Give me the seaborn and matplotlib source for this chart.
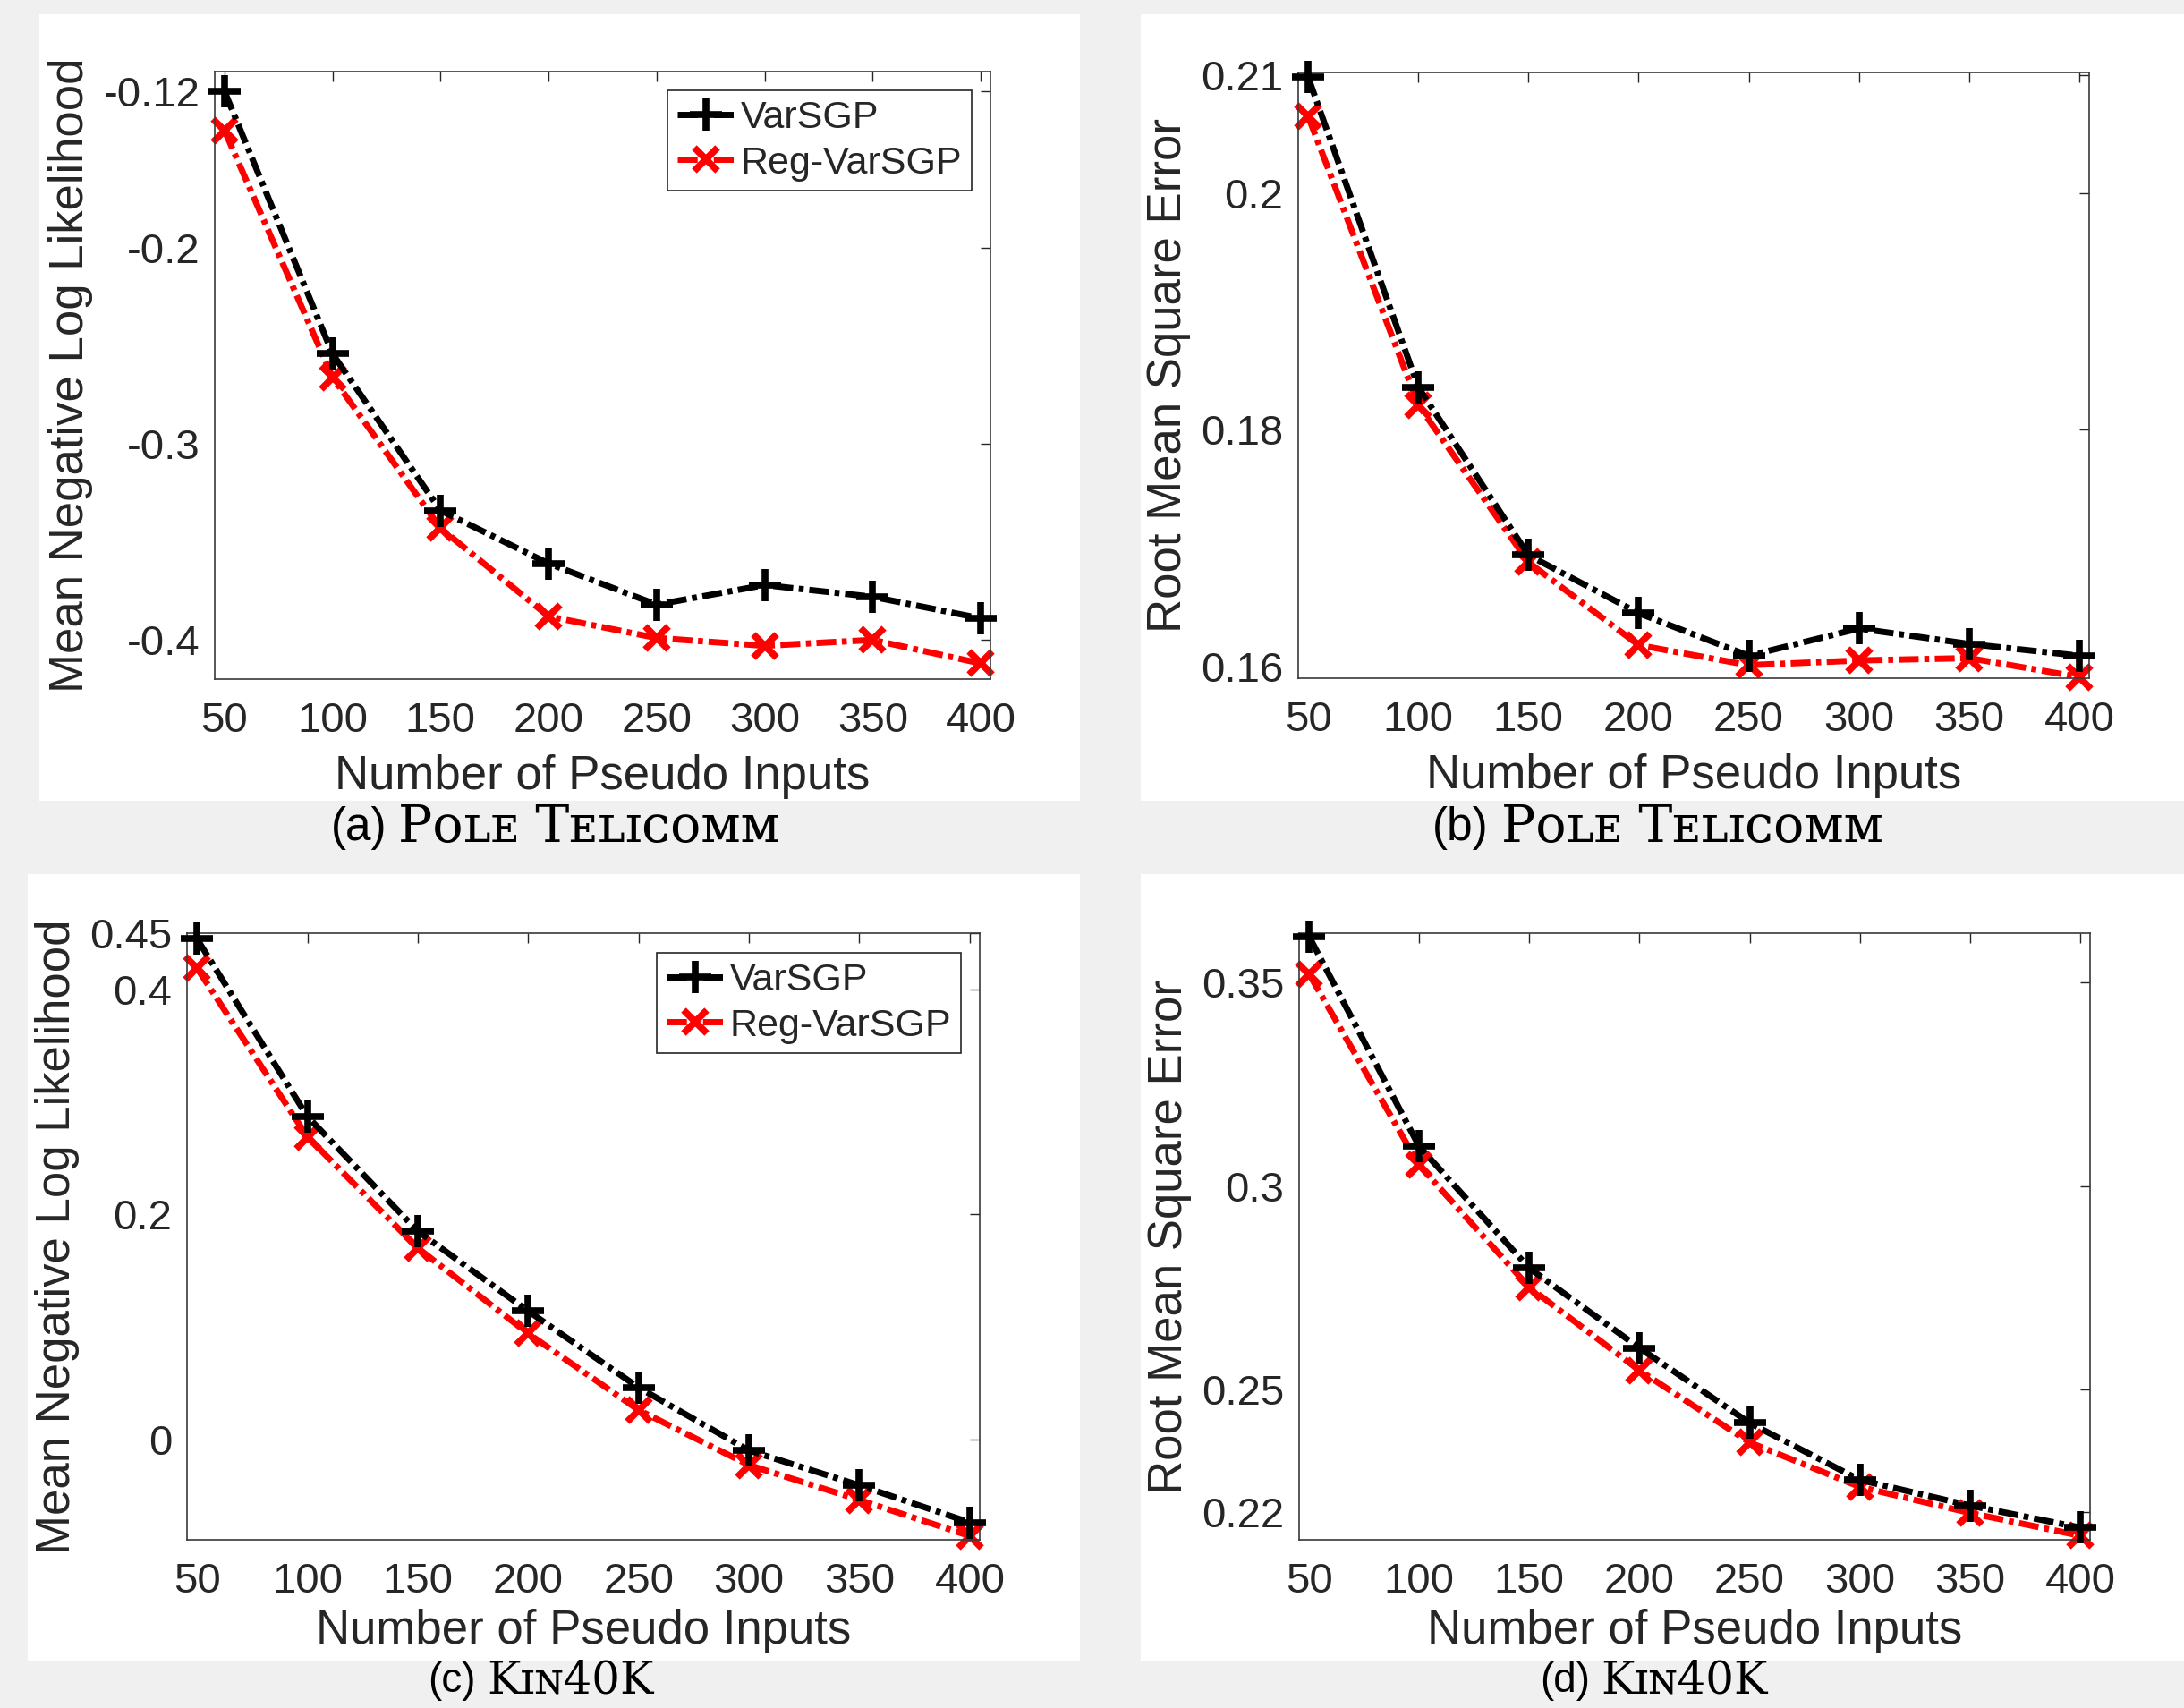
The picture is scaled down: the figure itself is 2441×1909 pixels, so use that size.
import matplotlib
matplotlib.use("Agg")  # no display
import matplotlib.pyplot as plt
from matplotlib.patches import Rectangle
import pandas as pd
import seaborn as sns

# x values shared by all four panels
n_pseudo = [50, 100, 150, 200, 250, 300, 350, 400]

# (a) pole telecomm, mean negative log likelihood
pole_nll_varsgp = [-0.120, -0.254, -0.334, -0.361, -0.382, -0.372, -0.378, -0.389]
pole_nll_reg = [-0.140, -0.266, -0.343, -0.388, -0.399, -0.403, -0.400, -0.412]
# (b) pole telecomm, rmse
pole_rmse_varsgp = [0.2098, 0.1836, 0.1694, 0.1645, 0.1609, 0.1632, 0.1619, 0.1609]
pole_rmse_reg = [0.2065, 0.1821, 0.1688, 0.1618, 0.1601, 0.1605, 0.1607, 0.1591]
# (c) kin40k, mean negative log likelihood
kin_nll_varsgp = [0.445, 0.287, 0.185, 0.114, 0.046, -0.010, -0.041, -0.074]
kin_nll_reg = [0.419, 0.269, 0.170, 0.094, 0.026, -0.023, -0.054, -0.086]
# (d) kin40k, rmse
kin_rmse_varsgp = [0.3613, 0.3097, 0.2798, 0.2602, 0.2418, 0.2278, 0.2215, 0.2161]
kin_rmse_reg = [0.3521, 0.3051, 0.2751, 0.2547, 0.2370, 0.2261, 0.2197, 0.2141]

methods = ["VarSGP", "Reg-VarSGP"]
x_label = "Number of Pseudo Inputs"
nll_label = "Mean Negative Log Likelihood"
rmse_label = "Root Mean Square Error"
x_ticks = [50, 100, 150, 200, 250, 300, 350, 400]
pole_nll_ticks = [-0.4, -0.3, -0.2, -0.12]
pole_rmse_ticks = [0.16, 0.18, 0.2, 0.21]
kin_nll_ticks = [0, 0.2, 0.4, 0.45]
kin_rmse_ticks = [0.22, 0.25, 0.3, 0.35]
captions = [("(a)", "Pᴏʟᴇ Tᴇʟɪᴄᴏᴍᴍ"), ("(b)", "Pᴏʟᴇ Tᴇʟɪᴄᴏᴍᴍ"),
            ("(c)", "Kɪɴ40K"), ("(d)", "Kɪɴ40K")]

W, H = 2441, 1909

sns.set_theme(style="white")
plt.rcParams["font.family"] = ["Liberation Sans", "DejaVu Sans"]

fig = plt.figure(figsize=(W / 100, H / 100), dpi=100, facecolor="#f0f0f0")


def px_rect(l, t, r, b):
    """pixel box -> figure fraction [left, bottom, width, height]"""
    return [l / W, 1 - b / H, (r - l) / W, (b - t) / H]


# white panel backgrounds (kept under the axes)
for l, t, r, b in [(44, 16, 1207, 895), (1275, 16, 2441, 895),
                   (31, 977, 1207, 1856), (1275, 977, 2441, 1856)]:
    fig.patches.append(Rectangle((l / W, 1 - b / H), (r - l) / W, (b - t) / H,
                                 transform=fig.transFigure, facecolor="white",
                                 edgecolor="none", zorder=-5))

# bottom row is squeezed against the figure edge, so its captions are a bit smaller
panels = [
    dict(box=(240, 80, 1107, 759), a=pole_nll_varsgp, b=pole_nll_reg,
         ylim=(-0.42, -0.11), yticks=pole_nll_ticks, ylabel=nll_label,
         legend=(1086, 101), cap_y=925, cap_split=(432, 445),
         cap_size=(37, 41), xpad=11),
    dict(box=(1451, 81, 2335, 758), a=pole_rmse_varsgp, b=pole_rmse_reg,
         ylim=(0.159, 0.2102), yticks=pole_rmse_ticks, ylabel=rmse_label,
         legend=None, cap_y=925, cap_split=(1664, 1678),
         cap_size=(37, 41), xpad=11),
    dict(box=(209, 1043, 1095, 1721), a=kin_nll_varsgp, b=kin_nll_reg,
         ylim=(-0.0894, 0.4495), yticks=kin_nll_ticks, ylabel=nll_label,
         legend=(1074, 1065), cap_y=1879, cap_split=(532, 544),
         cap_size=(33, 36), xpad=6),
    dict(box=(1452, 1043, 2336, 1721), a=kin_rmse_varsgp, b=kin_rmse_reg,
         ylim=(0.2131, 0.3621), yticks=kin_rmse_ticks, ylabel=rmse_label,
         legend=None, cap_y=1879, cap_split=(1777, 1789),
         cap_size=(33, 36), xpad=6),
]

dash_dot = (0, (3.2, 0.9, 0.8, 0.9))
text_col = "#262626"

for p, (tag, name) in zip(panels, captions):
    ax = fig.add_axes(px_rect(*p["box"]))
    ax.set_zorder(2)
    df = pd.DataFrame({"n": n_pseudo * 2, "val": p["a"] + p["b"],
                       "method": [methods[0]] * 8 + [methods[1]] * 8})
    sub_a = df[df["method"] == methods[0]]
    sub_b = df[df["method"] == methods[1]]
    sns.lineplot(data=sub_a, x="n", y="val", ax=ax, color="black",
                 linewidth=5, linestyle=dash_dot, marker="+", markersize=26,
                 markeredgewidth=5.5, markeredgecolor="black",
                 label=methods[0], zorder=3, clip_on=False)
    sns.lineplot(data=sub_b, x="n", y="val", ax=ax, color="red",
                 linewidth=5, linestyle=dash_dot, marker="x", markersize=19,
                 markeredgewidth=5.5, markeredgecolor="red",
                 label=methods[1], zorder=2, clip_on=False)

    ax.set_xlim(45.5, 404.5)
    ax.set_ylim(*p["ylim"])
    ax.set_xticks(x_ticks)
    ax.set_xticklabels([str(v) for v in x_ticks])
    ax.set_yticks(p["yticks"])
    ax.set_yticklabels([f"{v:g}" for v in p["yticks"]])
    ax.tick_params(direction="in", length=8, width=1, colors=text_col,
                   labelsize=34, top=True, right=True, pad=12)
    ax.tick_params(axis="x", pad=18)
    for s in ax.spines.values():
        s.set_color("#3a3a3a")
        s.set_linewidth(1.2)
    ax.set_xlabel(x_label, fontsize=38, color=text_col, labelpad=p["xpad"])
    ax.set_ylabel(p["ylabel"], fontsize=38, color=text_col, labelpad=8)
    ax.set_facecolor("white")

    if p["legend"] is not None:
        lx, ly = p["legend"]
        leg = ax.legend(loc="upper right", bbox_to_anchor=(lx / W, 1 - ly / H),
                        bbox_transform=fig.transFigure, borderaxespad=0,
                        fontsize=31, frameon=True, fancybox=False,
                        edgecolor="#262626", handlelength=1.5,
                        handletextpad=0.15, labelspacing=0.25, borderpad=0.25,
                        framealpha=1)
        leg.get_frame().set_linewidth(1.2)
    else:
        ax.get_legend().remove()

    rx, lx2 = p["cap_split"]
    tag_size, name_size = p["cap_size"]
    fig.text(rx / W, 1 - p["cap_y"] / H, tag, ha="right", va="center",
             fontsize=tag_size, color="black")
    fig.text(lx2 / W, 1 - p["cap_y"] / H, name, ha="left", va="center",
             fontsize=name_size, color="black",
             family=["DejaVu Serif", "DejaVu Sans"])

fig.savefig("out.png", dpi=100, facecolor=fig.get_facecolor())
